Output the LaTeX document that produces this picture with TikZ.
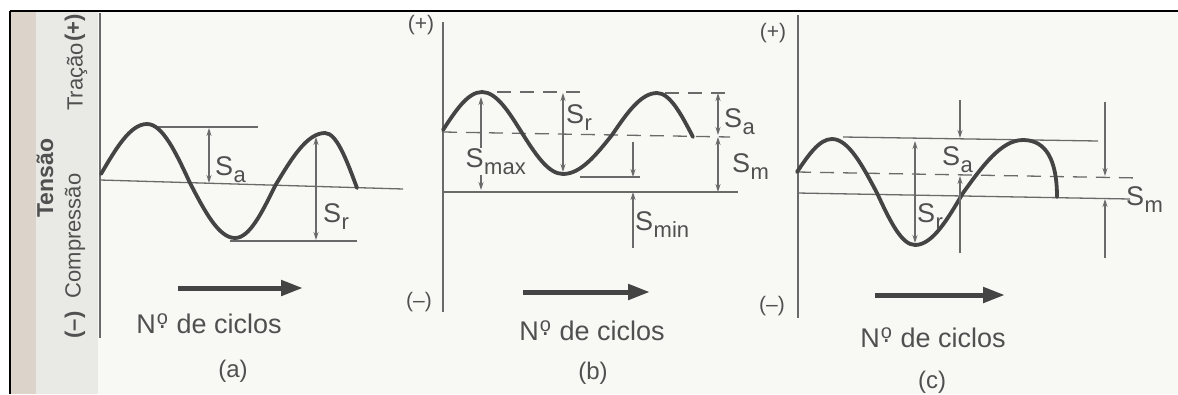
\documentclass[tikz,border=0pt]{standalone}
\usepackage{fontspec}
\setmainfont{Liberation Sans}
\usetikzlibrary{arrows.meta}
\definecolor{bgc}{HTML}{F8F8F5}
\definecolor{stripc}{HTML}{DCD4CB}
\definecolor{stripd}{HTML}{E9E9E5}
\definecolor{lnc}{HTML}{6A6A6A}
\definecolor{wavec}{HTML}{444444}
\definecolor{txtc}{HTML}{505050}
\newcommand\fs[1]{\fontsize{#1}{#1}\selectfont}
\newcommand\Slab[1]{\fs{27}S\kern0.5pt\raisebox{-0.28em}{\fs{22}#1}}
\newcommand\ciclos{\fs{27}N\kern1pt{\ooalign{\hfil\raisebox{9pt}{\fs{20}o}\hfil\cr\hfil\raisebox{5pt}{.}\hfil}}\kern1pt\ de ciclos}
\begin{document}
\begin{tikzpicture}[x=1pt,y=-1pt,
  axisline/.style={draw=lnc,line width=1.4pt},
  refline/.style={draw=lnc,line width=1.3pt},
  drefline/.style={draw=lnc,line width=1.3pt,dash pattern=on 14pt off 9pt},
  wavestyle/.style={draw=wavec,line width=3.8pt,line cap=round},
  dimarrow/.style={draw=lnc,line width=1.1pt,{Stealth[length=8pt,width=5pt]}-{Stealth[length=8pt,width=5pt]}},
  dimone/.style={draw=lnc,line width=1.1pt,-{Stealth[length=8pt,width=5pt]}},
  bigarrow/.style={draw=wavec,line width=5pt,-{Triangle[length=22pt,width=15pt]}},
  lab/.style={text=txtc,inner sep=0pt,anchor=base west},
  txtst/.style={text=txtc,inner sep=0pt}]
\useasboundingbox (0,0) rectangle (1178,394);
% background and frame
\fill[white] (0,0) rectangle (1178,394);
\fill[bgc] (10,11) rectangle (1178,394);
\fill[stripc] (10,11) rectangle (36,394);
\fill[stripd] (36,11) rectangle (98,394);
\draw[black,line width=2.5pt] (10,11) -- (1178,11);
\draw[black,line width=2pt] (10,11) -- (10,394);

% ---------------- panel (a)
\node[txtst,rotate=90,font=\fs{23}\bfseries] (tensao) at (45,178) {Tensão};
\node[txtst,rotate=90,font=\fs{22}\bfseries] (aminus) at (75,325) {(–)};
\node[txtst,rotate=90,font=\fs{22}] (compr) at (75,236) {Compressão};
\node[txtst,rotate=90,font=\fs{22}] (tracao) at (77,77) {Tração};
\node[txtst,rotate=90,font=\fs{22}\bfseries] (aplus) at (75,28) {(+)};
\draw[axisline] (100,13) -- (100,338);
\draw[refline] (100,180) -- (403,189);
\draw[refline] (157,127) -- (258,127);
\draw[refline] (230,241) -- (357,241);
\draw[wavestyle] (101,174) sin (147,124) cos (190,183) sin (235,238) cos (275,186) sin (325,133) cos (357,188);
\draw[dimarrow] (209,128) -- (209,183);
\draw[dimarrow] (316,137) -- (316,240);
\node[lab] (asa) at (215,175) {\Slab{a}};
\node[lab] (asr) at (323,222) {\Slab{r}};
\draw[bigarrow] (178,288) -- (303,288);
\node[txtst,anchor=base] (aciclos) at (209,333) {\ciclos};
\node[txtst,font=\fs{24}] (acap) at (233,371) {(a)};

% ---------------- panel (b)
\node[txtst,font=\fs{21}] (bplus) at (421,25) {(+)};
\node[txtst,font=\fs{21}] (bminus) at (419,302) {(–)};
\draw[axisline] (443,22) -- (443,312);
\draw[refline] (443,192) -- (738,192);
\draw[drefline] (443,132) -- (730,137);
\draw[drefline] (497,92) -- (583,92);
\draw[drefline] (665,93) -- (730,93);
\draw[refline] (580,177) -- (640,177);
\draw[wavestyle] (443,130) sin (482,92) cos (522,133) sin (563,174) cos (612,135) sin (657,93) cos (693,137);
\draw[dimarrow] (481,97) -- (481,190);
\node[lab,fill=bgc,inner sep=0.5pt] (bsmax) at (465,167) {\Slab{max}};
\draw[dimarrow] (563,93) -- (563,172);
\node[lab] (bsr) at (566,123) {\Slab{r}};
\draw[dimone] (633,142) -- (633,177);
\draw[dimone] (633,248) -- (633,192);
\node[lab] (bsmin) at (635,230) {\Slab{min}};
\draw[dimarrow] (718,93) -- (718,135);
\draw[dimarrow] (718,137) -- (718,192);
\node[lab] (bsa) at (724,127) {\Slab{a}};
\node[lab] (bsm) at (732,172) {\Slab{m}};
\draw[bigarrow] (523,292) -- (650,292);
\node[txtst,anchor=base] (bciclos) at (592,340) {\ciclos};
\node[txtst,font=\fs{24}] (bcap) at (593,373) {(b)};

% ---------------- panel (c)
\node[txtst,font=\fs{21}] (cplus) at (773,33) {(+)};
\node[txtst,font=\fs{21}] (cminus) at (772,306) {(–)};
\draw[axisline] (798,15) -- (798,318);
\draw[refline] (797,193) -- (1130,199);
\draw[drefline] (797,172) -- (1140,178);
\draw[refline] (843,137) -- (1098,141);
\draw[wavestyle] (797,172) sin (832,139) cos (877,193) sin (915,245) cos (963,193) sin (1023,140) .. controls (1046,140) and (1057,160) .. (1057,197);
\draw[dimarrow] (915,141) -- (915,243);
\node[lab] (csr) at (917,222) {\Slab{r}};
\draw[dimone] (960,100) -- (960,138);
\draw[dimone] (960,253) -- (960,176);
\node[lab] (csa) at (942,165) {\Slab{a}};
\draw[dimone] (1105,102) -- (1105,176);
\draw[dimone] (1105,258) -- (1105,199);
\node[lab] (csm) at (1126,205) {\Slab{m}};
\draw[bigarrow] (875,295) -- (1005,295);
\node[txtst,anchor=base] (cciclos) at (933,347) {\ciclos};
\node[txtst,font=\fs{24}] (ccap) at (932,382) {(c)};
\end{tikzpicture}
\end{document}
